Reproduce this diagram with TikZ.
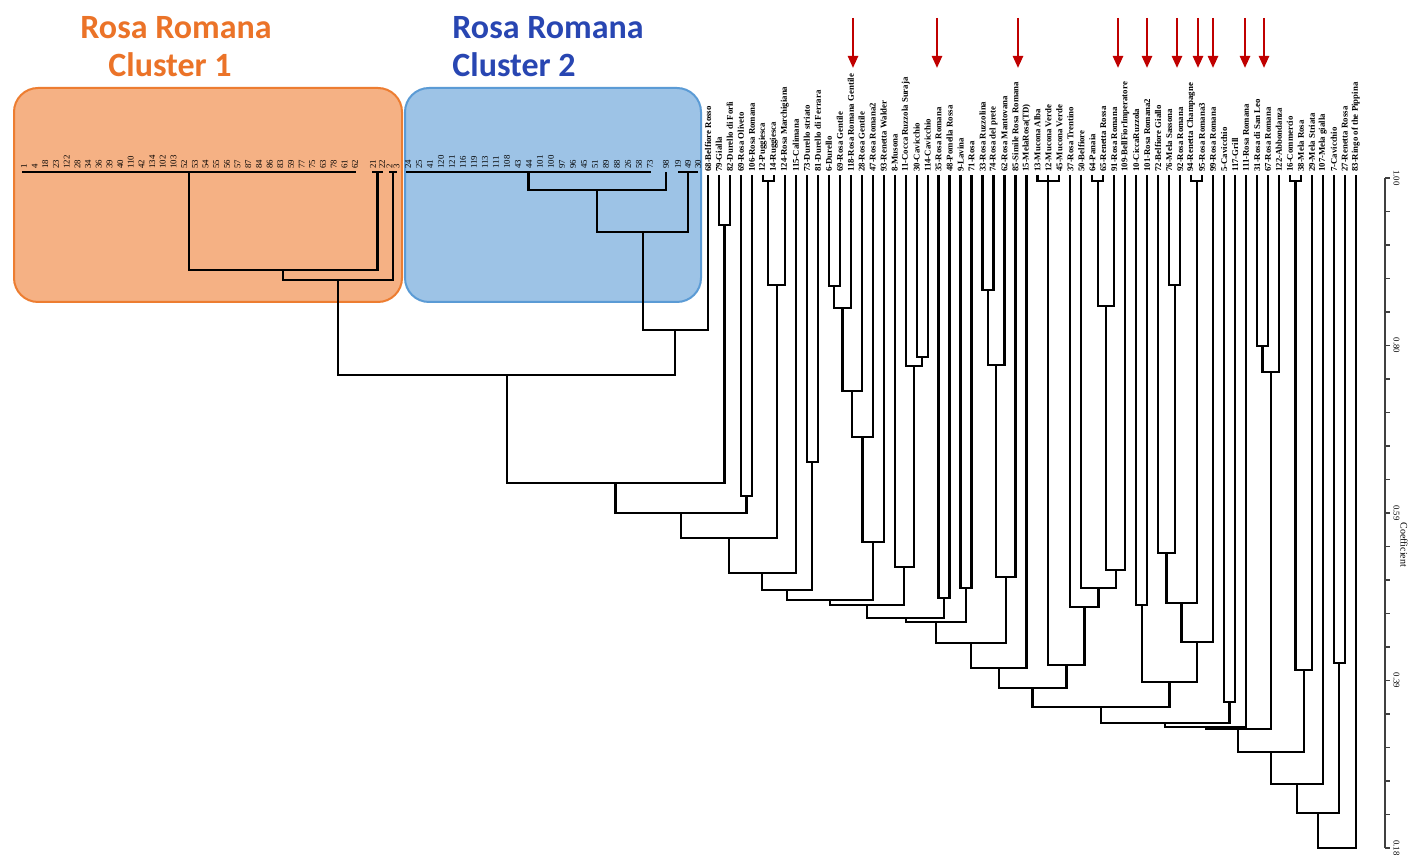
\documentclass[tikz,border=0pt]{standalone}
\usepackage{fontspec}
\setmainfont{Liberation Serif}
\newfontfamily\titlefont{Carlito}
\usetikzlibrary{arrows.meta,calc}
\definecolor{orbox}{RGB}{245,177,132}
\definecolor{orline}{RGB}{237,125,49}
\definecolor{ortext}{RGB}{235,115,40}
\definecolor{blbox}{RGB}{157,195,230}
\definecolor{blline}{RGB}{91,155,213}
\definecolor{bltext}{RGB}{40,70,178}
\definecolor{arrred}{RGB}{192,0,0}
\newcommand\dmerge[4]{%
  \coordinate (hY) at (0,#4);
  \draw[dend] (#2) -- (#2 |- hY) -- (#3 |- hY) -- (#3);
  \coordinate (#1) at ($(#2 |- hY)!0.5!(#3 |- hY)$);
}
\begin{document}
\begin{tikzpicture}[x=0.5pt,y=-0.5pt,
  dend/.style={line width=1.1pt,black,line join=miter},
  leaflab/.style={rotate=90,anchor=west,inner sep=0.4pt,font=\fontsize{4.4}{5}\selectfont\bfseries},
  clab/.style={rotate=90,anchor=west,inner sep=0.4pt,font=\fontsize{4.4}{5}\selectfont},
  ttl/.style={anchor=west,inner sep=0pt,font=\titlefont\fontsize{17}{20}\selectfont\bfseries},
  marker/.style={draw=arrred,line width=1.2pt,-{Triangle[width=5pt,length=6pt,fill=arrred]}},
  axisline/.style={line width=0.8pt,black!75},
  ticklab/.style={rotate=-90,anchor=south,inner sep=0.5pt,font=\fontsize{4.4}{5}\selectfont}]
\fill[white] (0,0) rectangle (1410,855);
\useasboundingbox (0,0) rectangle (1410,855);

% cluster boxes
\draw[line width=1pt,draw=orline,fill=orbox,rounded corners=12pt] (14,88) rectangle (402,302);
\draw[line width=1pt,draw=blline,fill=blbox,rounded corners=12pt] (405,88) rectangle (701,302);

% titles
\node[ttl,text=ortext] (t1a) at (80,28) {Rosa Romana};
\node[ttl,text=ortext] (t1b) at (108,65) {Cluster 1};
\node[ttl,text=bltext] (t2a) at (452,28) {Rosa Romana};
\node[ttl,text=bltext] (t2b) at (452,65) {Cluster 2};

% cluster 1 leaves
\foreach \lab [count=\i] in {1,4,18,23,122,28,34,36,39,40,110,42,134,102,103,52,53,54,55,56,57,87,84,86,83,59,77,75,63,78,61,62}{
  \pgfmathsetmacro\xx{24+(\i-1)*10.68}
  \node[clab] (ca\i) at (\xx,170) {\lab};
}
\node[clab] (cb1) at (373,170) {21};
\node[clab] (cb2) at (382,170) {22};
\node[clab] (cc1) at (389.5,170) {2};
\node[clab] (cc2) at (396.5,170) {3};
\coordinate (C1Aw) at (22,172); \coordinate (C1Ae) at (356,172);
\draw[dend] (C1Aw) -- (C1Ae);
\coordinate (C1A) at (189,172);
\coordinate (C1Bw) at (372,172); \coordinate (C1Be) at (383,172);
\draw[dend] (C1Bw) -- (C1Be);
\coordinate (C1B) at (377.5,172);
\coordinate (C1Cw) at (389,172); \coordinate (C1Ce) at (397,172);
\draw[dend] (C1Cw) -- (C1Ce);
\coordinate (C1C) at (393,172);

% cluster 2 leaves
\foreach \lab [count=\i] in {24,25,41,120,121,116,119,113,111,108,43,44,101,100,97,96,45,51,89,88,26,58,73}{
  \pgfmathsetmacro\xx{408+(\i-1)*11.0}
  \node[clab] (cd\i) at (\xx,170) {\lab};
}
\node[clab] (ce1) at (666,170) {98};
\node[clab] (cf1) at (678,170) {19};
\node[clab] (cf2) at (688,170) {49};
\node[clab] (cf3) at (698,170) {30};
\coordinate (C2Dw) at (406,172); \coordinate (C2De) at (651,172);
\draw[dend] (C2Dw) -- (C2De);
\coordinate (C2D) at (528.5,172);
\coordinate (C2E) at (666,172);
\coordinate (C2Fw) at (678,172); \coordinate (C2Fe) at (698,172);
\draw[dend] (C2Fw) -- (C2Fe);
\coordinate (C2F) at (688,172);

% named leaves
\foreach \lab [count=\i] in {68-Belfiore Rosso,79-Gialla,82-Durello di Forlì,69-Rosa Oliveto,106-Rosa Romana,12-Puggiesca,14-Ruggiesca,124-Rosa Marchigiana,115-Calimana,73-Durello striato,81-Durello di Ferrara,6-Durello,69-Rosa Gentile,118-Rosa Romana Gentile,28-Rosa Gentile,47-Rosa Romana2,93-Renetta Walder,8-Musona,11-Cocca Ruzzola Suraja,30-Cavicchio,114-Cavicchio,35-Rosa Romana,48-Pomella Rossa,9-Lavina,71-Rosa,33-Rosa Ruzzolina,74-Rosa del prete,62-Rosa Mantovana,85-Simile Rosa Romana,{15-MelaRosa(TD)},13-Mucona Alba,12-Mucona Verde,45-Mucona Verde,37-Rosa Trentino,50-Belfiore,64-Panaia,65-Renetta Rossa,91-Rosa Romana,109-BellFiorImperatore,10-CiccaRuzzola,101-Rosa Romana2,72-Belfiore Giallo,76-Mela Sassona,92-Rosa Romana,94-Renetta Champagne,95-Rosa Romana3,99-Rosa Romana,5-Cavicchio,117-Grill,111-Rosa Romana,31-Rosa di San Leo,67-Rosa Romana,122-Abbondanza,16-Commercio,38-Mela Rosa,29-Mela Striata,107-Mela gialla,7-Cavicchio,27-Renetta Rossa,83-Ringo of the Pippina}{
  \pgfmathsetmacro\xx{708+(\i-1)*10.98}
  \coordinate (L\i) at (\xx,175);
  \node[leaflab] (T\i) at (\xx,173) {\lab};
}

% dendrogram merges
\dmerge{C1AB}{C1A}{C1B}{270}
\dmerge{C1}{C1AB}{C1C}{280}
\dmerge{C2DE}{C2D}{C2E}{190}
\dmerge{C2}{C2DE}{C2F}{232}
\dmerge{C2L}{C2}{L1}{330}
\dmerge{R1}{C1}{C2L}{375}
\dmerge{N23}{L2}{L3}{225}
\dmerge{R2}{R1}{N23}{483}
\dmerge{N45}{L4}{L5}{496}
\dmerge{R3}{R2}{N45}{513}
\dmerge{N67}{L6}{L7}{181}
\dmerge{N678}{N67}{L8}{285}
\dmerge{R4}{R3}{N678}{538}
\dmerge{R5}{R4}{L9}{573}
\dmerge{N1011}{L10}{L11}{462}
\dmerge{R6}{R5}{N1011}{590}
\dmerge{N1213}{L12}{L13}{286}
\dmerge{N1214}{N1213}{L14}{308}
\dmerge{N1215}{N1214}{L15}{391}
\dmerge{N1216}{N1215}{L16}{437}
\dmerge{N1217}{N1216}{L17}{542}
\dmerge{R7}{R6}{N1217}{600}
\dmerge{N2021}{L20}{L21}{357}
\dmerge{N1921}{L19}{N2021}{366}
\dmerge{N1821}{L18}{N1921}{567}
\dmerge{R8}{R7}{N1821}{605}
\dmerge{N2223}{L22}{L23}{598}
\dmerge{R9}{R8}{N2223}{618}
\dmerge{N2425}{L24}{L25}{588}
\dmerge{R10}{R9}{N2425}{622}
\dmerge{N2627}{L26}{L27}{290}
\dmerge{N2628}{N2627}{L28}{365}
\dmerge{N2629}{N2628}{L29}{577}
\dmerge{R11}{R10}{N2629}{643}
\dmerge{R12}{R11}{L30}{668}
\dmerge{NM}{L31}{L33}{181}
\draw[dend] (L32) -- (NM);
\dmerge{N3637}{L36}{L37}{181}
\dmerge{N3638}{N3637}{L38}{306}
\dmerge{N3639}{N3638}{L39}{570}
\dmerge{N3539}{L35}{N3639}{588}
\dmerge{N3439}{L34}{N3539}{607}
\dmerge{NM39}{NM}{N3439}{665}
\dmerge{R13}{R12}{NM39}{688}
\dmerge{N4041}{L40}{L41}{605}
\dmerge{N4344}{L43}{L44}{285}
\dmerge{N4244}{L42}{N4344}{553}
\dmerge{N4546}{L45}{L46}{181}
\dmerge{N4246}{N4244}{N4546}{603}
\dmerge{N4247}{N4246}{L47}{642}
\dmerge{N4047}{N4041}{N4247}{682}
\dmerge{R14}{R13}{N4047}{707}
\dmerge{N4849}{L48}{L49}{702}
\dmerge{R15}{R14}{N4849}{723}
\dmerge{R16}{R15}{L50}{727}
\dmerge{N5152}{L51}{L52}{346}
\dmerge{N5153}{N5152}{L53}{372}
\dmerge{R17}{R16}{N5153}{729}
\dmerge{N5455}{L54}{L55}{181}
\dmerge{N5456}{N5455}{L56}{670}
\dmerge{R18}{R17}{N5456}{752}
\dmerge{R19}{R18}{L57}{784}
\dmerge{N5859}{L58}{L59}{663}
\dmerge{R20}{R19}{N5859}{813}
\dmerge{R21}{R20}{L60}{848}

% red markers
\foreach \ax [count=\j] in {853,937,1018,1118,1147,1177,1198,1213,1245,1264}{
  \coordinate (ms\j) at (\ax,18);
  \coordinate (me\j) at (\ax,68);
  \draw[marker] (ms\j) -- (me\j);
}

% axis
\coordinate (ax0) at (1385,178);
\coordinate (ax1) at (1385,848);
\draw[axisline] (ax0) -- (ax1);
\foreach \k in {0,...,20}{
  \draw[axisline] (1385,178+33.5*\k) -- ++(5,0);
}
\node[ticklab] (tl0) at (1392,178) {1.00};
\node[ticklab] (tl1) at (1392,345.5) {0.80};
\node[ticklab] (tl2) at (1392,513) {0.59};
\node[ticklab] (tl3) at (1392,680.5) {0.39};
\node[ticklab] (tl4) at (1392,848) {0.18};
\node[rotate=-90,anchor=south west,inner sep=0.5pt,font=\fontsize{5}{6}\selectfont] (coef) at (1399,521) {Coefficient};
\end{tikzpicture}
\end{document}
